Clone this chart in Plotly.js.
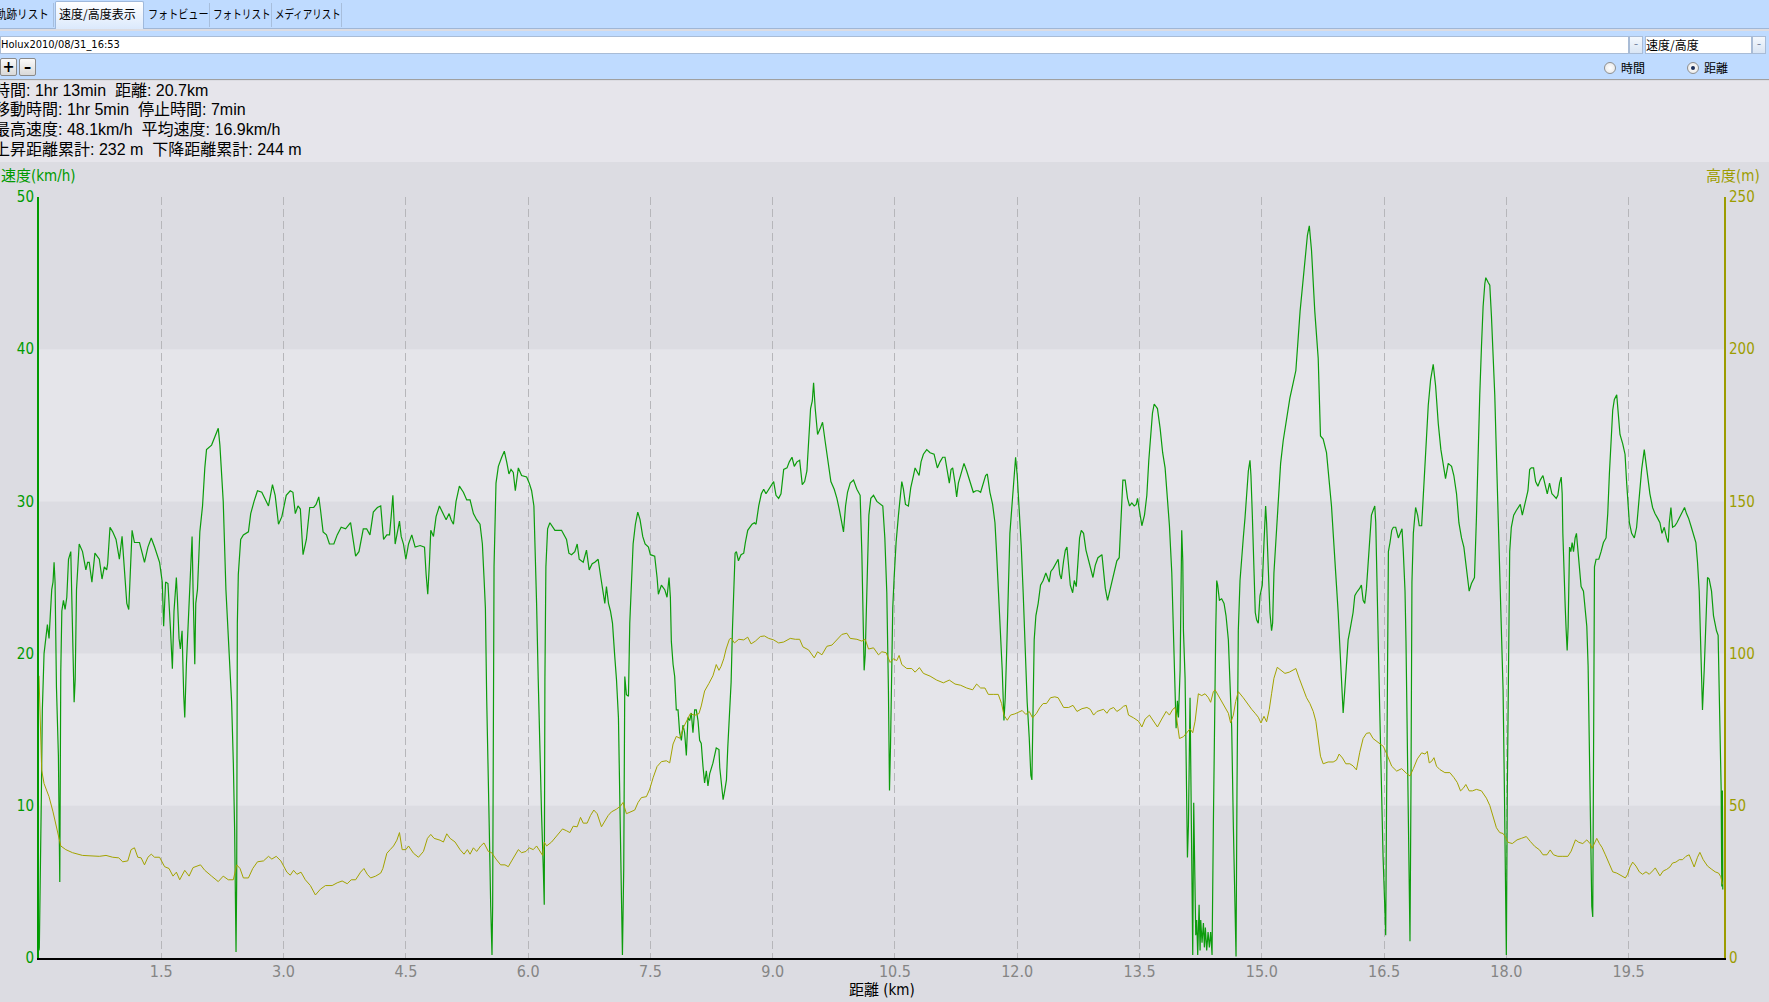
<!DOCTYPE html>
<html><head><meta charset="utf-8">
<script src="https://cdn.plot.ly/plotly-3.0.1.min.js"></script>
<style>
body{margin:0;width:1769px;height:1002px;overflow:hidden;background:#dcdce2;position:relative;font-family:"Liberation Sans Narrow","DejaVu Sans Condensed","Noto Sans CJK JP",sans-serif;}
div{box-sizing:border-box;}
#tabbar{position:absolute;left:0;top:0;width:1769px;height:29px;background:#bfdbff;border-bottom:1px solid #9fb6d6;}
.tab{position:absolute;top:4px;height:20px;font-size:12px;line-height:20px;color:#000;white-space:nowrap;font-family:"Noto Sans CJK JP",sans-serif;transform-origin:0 50%;}
.tabdiv{position:absolute;top:3px;width:1px;height:24px;background:#a7bedc;}
#seltab{position:absolute;left:55px;top:1px;width:89px;height:28px;background:linear-gradient(#ffffff,#dbe9fc);border:1px solid #9fb9dc;border-bottom:none;border-radius:2px 2px 0 0;}
#sep{position:absolute;left:0;top:29px;width:1769px;height:3px;background:#bfdbff;border-top:2px solid #8c8c8c;}
#row2{position:absolute;left:0;top:31px;width:1769px;height:49px;background:#bfdbff;border-bottom:1px solid #a0a0a0;}
.box{position:absolute;background:#fff;border:1px solid #a9bcd6;font-size:11px;line-height:15px;padding-left:0;white-space:nowrap;}
.drop{position:absolute;background:linear-gradient(#f4f8fd,#d9e5f4);border:1px solid #a9bcd6;font-size:9px;line-height:14px;text-align:center;color:#4a5a80;}
.btn{position:absolute;top:27px;width:17px;height:18px;background:linear-gradient(#fafafa,#d9d9d9);border:1px solid #8a8a8a;border-radius:2px;font-size:16px;line-height:15px;text-align:center;font-weight:bold;}
.radio{position:absolute;top:31px;width:12px;height:12px;border-radius:50%;border:1px solid #8e8f8f;background:radial-gradient(#ffffff,#e4e4e4);}
.rlabel{position:absolute;top:29px;font-size:12px;line-height:16px;font-family:"Noto Sans CJK JP",sans-serif;}
#info{position:absolute;left:0;top:81px;width:1769px;height:81px;background:#e6e5eb;}
.line{position:absolute;left:-6px;font-size:16px;line-height:20px;white-space:pre;color:#000;font-family:"Liberation Sans","Noto Sans CJK JP",sans-serif;}
#chart{position:absolute;left:0;top:162px;width:1769px;height:840px;}
</style></head>
<body>
<div id="tabbar">
  <div id="seltab"></div>
  <div class="tab" style="left:-4px;transform:scaleX(0.88)">軌跡リスト</div>
  <div class="tabdiv" style="left:53px"></div>
  <div class="tab" style="left:59px">速度/高度表示</div>
  <div class="tab" style="left:148px;transform:scaleX(0.84)">フォトビュー</div>
  <div class="tabdiv" style="left:209px"></div>
  <div class="tab" style="left:213px;transform:scaleX(0.8)">フォトリスト</div>
  <div class="tabdiv" style="left:271px"></div>
  <div class="tab" style="left:275px;transform:scaleX(0.79)">メディアリスト</div>
  <div class="tabdiv" style="left:341px"></div>
</div>
<div id="row2">
  <div class="box" style="left:0;top:5px;width:1629px;height:18px;">Holux2010/08/31_16:53</div>
  <div class="drop" style="left:1629px;top:5px;width:14px;height:18px;">&#8211;</div>
  <div class="box" style="left:1645px;top:5px;width:107px;height:18px;font-size:12px;font-family:'Noto Sans CJK JP',sans-serif;">速度/高度</div>
  <div class="drop" style="left:1752px;top:5px;width:14px;height:18px;">&#8211;</div>
  <div class="btn" style="left:0px;">+</div>
  <div class="btn" style="left:19px;">&#8211;</div>
  <div class="radio" style="left:1604px;"></div>
  <div class="rlabel" style="left:1621px;">時間</div>
  <div class="radio" style="left:1687px;"><div style="position:absolute;left:3px;top:3px;width:4px;height:4px;border-radius:50%;background:#1b2f5a;"></div></div>
  <div class="rlabel" style="left:1704px;">距離</div>
</div>
<div id="info">
  <div class="line" style="top:0px">時間: 1hr 13min  距離: 20.7km</div>
  <div class="line" style="top:19px">移動時間: 1hr 5min  停止時間: 7min</div>
  <div class="line" style="top:39px">最高速度: 48.1km/h  平均速度: 16.9km/h</div>
  <div class="line" style="top:59px">上昇距離累計: 232 m  下降距離累計: 244 m</div>
</div>
<div id="chart"></div>
<script>
// [distance km, speed km/h]
const speedPoints = [
[0.000,0.5],[0.004,0.7],[0.028,10.3],[0.041,16.3],[0.062,20.0],[0.082,21.0],[0.103,21.9],[0.123,21.0],[0.135,22.3],[0.156,24.2],
[0.172,24.7],[0.185,26.0],[0.197,24.7],[0.214,17.8],[0.238,13.3],[0.255,5.0],[0.267,18.8],[0.280,22.8],[0.300,23.5],[0.320,22.9],
[0.341,23.7],[0.362,26.2],[0.390,26.7],[0.411,21.8],[0.431,16.8],[0.444,18.3],[0.460,24.2],[0.493,27.2],[0.534,26.7],[0.575,25.5],
[0.596,26.0],[0.616,26.0],[0.649,24.7],[0.686,26.6],[0.740,26.2],[0.773,24.9],[0.801,25.7],[0.830,25.5],[0.842,25.9],[0.871,28.3],
[0.904,28.0],[0.945,27.5],[0.986,26.2],[1.019,27.7],[1.048,25.5],[1.077,23.3],[1.101,22.9],[1.142,28.1],[1.171,27.3],[1.233,27.3],
[1.266,26.6],[1.294,26.0],[1.336,27.0],[1.377,27.6],[1.418,27.0],[1.479,26.0],[1.512,24.7],[1.529,21.8],[1.553,24.7],[1.582,24.6],
[1.611,21.8],[1.636,19.0],[1.656,22.8],[1.685,25.0],[1.697,23.7],[1.718,21.0],[1.734,20.3],[1.755,21.5],[1.775,17.3],[1.788,15.8],
[1.808,19.3],[1.841,23.0],[1.862,25.0],[1.878,27.7],[1.890,24.2],[1.911,19.3],[1.923,23.3],[1.944,24.2],[1.973,28.0],[2.006,29.7],
[2.034,32.2],[2.055,33.4],[2.117,33.7],[2.158,34.2],[2.199,34.8],[2.219,33.7],[2.260,30.0],[2.293,24.2],[2.326,20.8],[2.363,16.8],
[2.384,12.8],[2.400,8.4],[2.417,0.4],[2.425,5.1],[2.433,22.0],[2.445,25.2],[2.474,27.5],[2.507,27.8],[2.569,28.0],[2.597,29.2],
[2.638,30.0],[2.680,30.7],[2.733,30.6],[2.774,30.2],[2.815,29.7],[2.864,31.1],[2.897,30.4],[2.938,28.5],[2.979,29.0],[3.033,30.4],
[3.082,30.7],[3.115,30.6],[3.144,29.2],[3.177,29.7],[3.206,29.5],[3.239,26.5],[3.280,27.5],[3.321,29.6],[3.370,29.6],[3.399,29.8],
[3.432,30.3],[3.452,29.5],[3.485,28.0],[3.526,27.8],[3.563,27.2],[3.617,27.2],[3.658,27.8],[3.707,28.3],[3.761,28.2],[3.822,28.6],
[3.851,27.7],[3.884,26.4],[3.925,26.7],[3.978,28.2],[4.019,28.2],[4.060,27.8],[4.101,29.3],[4.151,29.6],[4.192,29.7],
[4.227,27.5],[4.267,27.8],[4.300,27.8],[4.320,29.0],[4.341,30.4],[4.369,27.2],[4.402,28.2],[4.422,28.7],[4.443,27.7],[4.471,27.2],
[4.500,26.2],[4.533,27.2],[4.573,27.8],[4.614,27.0],[4.676,27.1],[4.729,27.0],[4.749,25.2],[4.769,23.9],[4.790,26.0],[4.806,28.1],
[4.839,27.7],[4.871,29.0],[4.912,29.7],[4.953,29.3],[4.994,28.8],[5.031,29.2],[5.055,28.8],[5.084,28.5],[5.116,30.0],[5.157,31.0],
[5.206,30.6],[5.247,30.1],[5.288,30.1],[5.329,29.2],[5.369,28.8],[5.410,28.5],[5.439,27.2],[5.459,25.0],[5.476,23.0],[5.492,17.0],
[5.508,13.3],[5.524,8.4],[5.541,3.4],[5.557,0.2],[5.565,3.4],[5.582,25.7],[5.606,31.2],[5.635,32.3],[5.676,32.9],[5.708,33.3],
[5.737,32.6],[5.765,31.8],[5.790,32.1],[5.818,31.9],[5.843,30.7],[5.880,32.2],[5.920,31.7],[5.982,31.6],[6.014,31.2],[6.043,30.7],
[6.071,29.7],[6.088,27.0],[6.104,23.3],[6.124,18.3],[6.145,13.3],[6.165,9.4],[6.186,5.9],[6.198,3.5],[6.206,18.3],[6.218,25.7],
[6.239,28.2],[6.267,28.6],[6.329,28.1],[6.410,28.1],[6.471,27.5],[6.500,26.6],[6.533,26.5],[6.573,26.7],[6.602,27.2],[6.627,26.2],
[6.676,26.0],[6.716,26.8],[6.749,25.5],[6.786,25.9],[6.818,26.0],[6.859,26.2],[6.892,25.0],[6.920,24.0],[6.941,23.3],[6.961,24.4],
[6.986,23.3],[7.010,22.8],[7.035,22.0],[7.063,19.8],[7.084,18.3],[7.108,15.8],[7.124,10.8],[7.141,4.6],[7.157,0.2],[7.173,5.9],
[7.186,18.5],[7.206,17.3],[7.231,17.2],[7.247,22.0],[7.267,24.7],[7.288,27.2],[7.316,28.5],[7.345,29.3],[7.373,28.8],[7.406,27.7],
[7.435,27.2],[7.476,27.0],[7.500,26.5],[7.553,26.4],[7.582,25.0],[7.598,23.9],[7.635,24.5],[7.676,24.2],[7.704,23.7],[7.729,25.0],
[7.745,23.7],[7.757,20.8],[7.778,19.3],[7.798,18.5],[7.818,16.3],[7.839,16.3],[7.859,14.8],[7.880,14.3],[7.900,15.3],[7.920,14.8],
[7.941,13.3],[7.961,15.8],[7.982,15.6],[8.002,16.1],[8.022,14.8],[8.043,16.3],[8.063,16.3],[8.084,15.6],[8.104,14.3],[8.124,14.1],
[8.145,12.6],[8.165,11.5],[8.186,12.3],[8.206,11.3],[8.227,12.1],[8.267,12.8],[8.308,13.8],[8.341,13.7],
[8.351,12.5],[8.371,11.2],[8.392,10.4],[8.412,11.0],[8.433,11.7],[8.449,13.8],[8.469,16.3],[8.490,18.1],[8.506,21.5],[8.522,24.0],
[8.539,26.6],[8.555,26.7],[8.580,26.1],[8.612,26.5],[8.645,26.6],[8.665,27.3],[8.694,28.1],[8.747,28.5],[8.776,28.6],[8.796,28.5],
[8.829,29.7],[8.861,30.5],[8.890,30.8],[8.918,30.5],[8.963,30.9],[9.012,31.3],[9.041,30.4],[9.073,30.2],[9.102,30.5],[9.135,32.1],
[9.176,32.2],[9.204,32.6],[9.237,32.9],[9.265,32.3],[9.298,32.6],[9.331,32.7],[9.363,31.1],[9.392,31.3],[9.420,32.0],[9.445,34.3],
[9.465,36.1],[9.486,36.6],[9.502,37.8],[9.522,36.1],[9.551,34.4],[9.584,34.8],[9.612,35.2],[9.645,33.9],[9.686,32.5],[9.714,31.3],
[9.755,30.8],[9.788,30.2],[9.820,29.4],[9.849,28.4],[9.869,28.0],[9.894,29.7],[9.918,30.6],[9.951,31.2],[9.992,31.4],[10.033,30.8],
[10.073,30.4],[10.094,26.6],[10.106,24.0],[10.122,18.9],[10.135,19.9],[10.155,24.0],[10.180,29.1],[10.204,30.2],[10.237,30.4],[10.278,30.0],
[10.318,29.8],[10.351,29.7],[10.376,27.6],[10.400,24.0],[10.420,17.6],[10.433,11.0],[10.445,13.8],[10.457,18.9],[10.473,23.0],[10.490,25.0],
[10.514,27.3],[10.543,29.1],[10.563,30.2],[10.584,31.3],[10.604,30.8],[10.629,29.8],[10.665,29.7],[10.694,30.9],[10.727,31.7],[10.747,32.2],
[10.767,32.0],[10.796,31.7],[10.820,32.6],[10.849,33.1],[10.890,33.4],[10.931,33.2],[10.980,33.1],[11.004,32.5],[11.020,32.2],[11.053,32.6],
[11.086,32.9],[11.114,32.9],[11.143,32.1],[11.167,31.2],[11.188,32.1],[11.208,32.2],[11.237,31.2],[11.257,30.3],[11.278,31.2],[11.306,31.8],
[11.347,32.5],[11.380,32.0],[11.420,31.3],[11.461,30.6],[11.494,30.7],[11.522,30.7],[11.551,30.6],[11.584,31.3],[11.612,31.7],[11.633,31.8],
[11.665,30.6],[11.698,29.8],[11.727,28.6],[11.747,26.6],[11.771,24.0],[11.796,21.5],[11.816,18.9],[11.837,15.6],[11.853,17.1],[11.869,19.9],
[11.890,25.0],[11.910,27.9],[11.935,29.7],[11.959,31.7],[11.980,32.9],[12.000,31.7],[12.024,29.7],[12.049,27.1],[12.073,24.0],[12.098,20.2],
[12.122,16.8],[12.147,14.5],[12.167,12.0],[12.180,11.7],[12.196,16.3],[12.208,20.9],[12.229,22.5],[12.257,23.3],[12.286,24.5],[12.318,24.8],
[12.351,25.3],[12.371,25.0],[12.392,24.7],[12.412,25.4],[12.441,25.6],[12.482,26.0],[12.502,26.2],[12.522,25.2],
[12.541,24.9],[12.569,26.1],[12.590,26.8],[12.610,27.0],[12.631,25.6],[12.651,24.5],[12.680,24.0],[12.700,24.8],[12.724,24.4],[12.745,26.3],
[12.765,27.6],[12.786,28.1],[12.814,27.9],[12.843,26.8],[12.876,26.1],[12.904,25.4],[12.929,25.0],[12.957,25.8],[12.990,26.3],[13.039,26.5],
[13.059,25.6],[13.080,24.3],[13.108,23.5],[13.141,24.3],[13.182,25.3],[13.222,26.1],[13.251,26.3],[13.271,28.6],[13.296,31.4],[13.324,31.4],
[13.353,30.2],[13.378,29.7],[13.406,29.9],[13.435,29.7],[13.459,29.8],[13.476,30.2],[13.500,29.3],[13.529,28.4],[13.561,29.1],[13.590,30.4],
[13.614,32.7],[13.639,34.8],[13.659,35.8],[13.680,36.4],[13.720,36.1],[13.753,34.8],[13.784,33.2],[13.814,32.2],[13.843,30.4],[13.867,28.4],
[13.896,25.3],[13.916,21.5],[13.937,16.3],[13.949,15.1],[13.965,16.9],[13.978,15.8],[13.998,18.9],[14.010,24.0],[14.018,28.1],[14.031,26.1],
[14.039,21.5],[14.059,18.4],[14.071,13.8],[14.088,6.6],[14.100,8.7],[14.112,15.1],[14.120,17.1],[14.129,12.5],[14.141,4.8],[14.153,0.2],
[14.165,10.2],[14.178,4.0],[14.190,1.5],[14.202,2.5],[14.214,0.2],[14.231,3.5],[14.243,0.5],[14.251,2.5],[14.267,1.0],[14.284,2.3],
[14.296,0.7],[14.308,2.0],[14.324,0.5],[14.341,1.7],[14.357,0.7],[14.373,1.7],[14.390,0.2],[14.406,8.7],[14.422,18.9],[14.435,21.5],
[14.447,24.8],[14.459,24.5],[14.480,23.5],[14.508,23.6],[14.537,23.3],[14.561,22.5],[14.590,20.9],[14.610,17.6],[14.631,15.1],[14.651,8.7],
[14.671,4.3],[14.684,0.1],[14.696,11.2],[14.712,21.5],[14.733,24.8],[14.753,26.6],[14.773,27.6],[14.794,28.9],[14.814,30.7],[14.835,32.0],
[14.855,32.7],[14.867,31.7],[14.884,29.1],[14.904,25.6],[14.920,22.7],[14.937,22.2],[14.957,22.0],[14.978,23.8],[15.006,24.5],[15.027,27.3],
[15.047,29.7],[15.059,28.6],[15.080,26.1],[15.100,22.7],[15.120,21.5],[15.133,22.0],[15.149,25.3],[15.173,27.3],[15.202,29.7],[15.231,32.5],
[15.263,34.0],[15.304,35.5],[15.345,36.8],[15.386,37.8],[15.418,38.6],[15.470,42.5],[15.520,45.5],[15.560,47.5],[15.583,48.1],[15.610,46.5],
[15.650,42.5],[15.692,39.4],[15.720,34.3],[15.753,34.1],[15.794,33.2],[15.835,30.9],[15.855,29.7],[15.876,27.9],[15.896,25.8],[15.916,24.5],
[15.937,22.7],[15.957,20.2],[15.978,18.4],[15.998,16.1],[16.018,17.6],[16.039,19.7],[16.059,20.9],[16.080,21.5],[16.100,22.0],[16.120,22.7],
[16.141,23.8],[16.161,24.0],[16.202,24.3],[16.222,24.5],[16.243,23.5],[16.263,23.3],[16.284,24.3],[16.304,25.8],[16.324,27.6],[16.345,29.1],
[16.365,29.4],[16.386,29.7],[16.398,28.6],[16.414,25.3],[16.431,20.2],[16.447,16.3],[16.467,11.2],[16.488,6.6],[16.508,3.5],[16.520,1.5],
[16.529,8.7],[16.553,26.7],[16.573,27.3],[16.594,28.1],[16.614,28.3],[16.643,28.3],[16.675,27.6],[16.696,27.9],[16.720,28.2],[16.736,26.7],
[16.757,24.1],[16.769,20.8],[16.785,14.4],[16.802,6.3],[16.818,1.1],[16.830,11.1],[16.842,24.7],[16.859,27.9],[16.887,29.6],[16.912,29.1],
[16.932,28.4],[16.961,28.4],[16.981,30.5],[17.010,33.8],[17.042,36.3],[17.071,38.0],[17.103,39.0],[17.132,37.6],[17.165,35.1],[17.197,33.4],
[17.226,32.5],[17.254,31.5],[17.287,32.5],[17.328,32.3],[17.356,31.7],[17.389,30.5],[17.418,28.6],[17.450,27.6],[17.479,27.0],[17.503,26.0],
[17.523,25.0],[17.544,24.1],[17.572,24.6],[17.609,25.0],[17.633,28.9],[17.654,33.8],[17.674,37.0],[17.695,40.2],[17.715,42.8],[17.736,44.3],
[17.748,44.7],[17.776,44.4],[17.797,44.2],[17.817,42.2],[17.838,39.9],[17.858,37.0],[17.878,33.1],[17.899,29.2],[17.919,25.4],[17.940,22.1],
[17.960,17.6],[17.976,11.1],[17.988,3.1],[18.000,0.2],[18.012,11.1],[18.029,24.1],[18.041,26.7],[18.061,28.3],[18.090,29.1],[18.122,29.4],
[18.147,29.6],[18.171,29.8],[18.196,29.1],[18.220,29.6],[18.245,30.2],[18.265,30.7],[18.286,32.1],[18.306,32.2],[18.334,32.2],[18.359,31.3],
[18.387,31.0],[18.416,31.4],[18.449,31.7],[18.477,31.0],[18.502,30.5],[18.530,31.2],[18.559,30.5],[18.579,30.4],[18.612,30.2],[18.632,30.4],
[18.653,31.2],[18.673,31.6],[18.685,30.5],[18.693,27.9],[18.706,25.0],[18.722,23.1],[18.734,21.5],[18.746,20.2],[18.758,21.8],[18.775,27.0],
[18.791,26.7],[18.807,27.3],[18.824,26.7],[18.844,27.6],[18.860,27.9],[18.877,26.7],[18.897,25.7],[18.917,24.4],[18.946,24.1],[18.966,23.1],
[18.987,21.8],[19.003,19.2],[19.019,14.4],[19.036,7.9],[19.048,3.4],[19.060,2.7],[19.068,17.6],[19.081,25.7],[19.101,26.2],[19.134,26.2],
[19.162,26.7],[19.191,27.3],[19.223,27.6],[19.244,29.2],[19.264,31.8],[19.284,34.4],[19.305,36.0],[19.325,36.7],[19.354,37.0],[19.374,35.7],
[19.394,34.4],[19.427,33.8],[19.456,33.1],[19.476,31.2],[19.492,29.6],[19.509,28.6],[19.537,27.9],[19.570,27.6],[19.598,28.3],[19.631,30.5],
[19.660,32.1],[19.692,33.4],[19.713,32.5],[19.733,31.5],[19.761,30.5],[19.794,29.6],[19.823,29.2],[19.855,28.9],[19.884,28.6],[19.909,27.9],
[19.937,28.3],[19.966,27.6],[19.986,27.3],[19.999,28.6],[20.019,29.6],[20.039,28.3],[20.068,28.4],[20.092,28.6],[20.121,28.9],[20.154,29.2],
[20.186,29.6],[20.210,29.2],[20.235,28.9],[20.264,28.4],[20.292,27.9],[20.325,27.3],[20.345,26.0],[20.366,24.1],[20.386,20.2],[20.406,16.3],
[20.427,18.9],[20.447,21.5],[20.468,25.0],[20.488,24.9],[20.517,24.1],[20.541,22.5],[20.562,21.8],[20.578,21.5],[20.598,21.2],[20.619,16.3],
[20.635,11.1],[20.643,4.7],[20.650,11.0],[20.655,4.5]
];
// [distance km, altitude m]
const altitudePoints = [
[0.000,92.7],[0.015,78.0],[0.033,61.7],[0.062,57.3],[0.123,53.0],[0.172,48.0],[0.226,41.8],[0.267,36.8],[0.329,35.6],[0.411,34.6],
[0.534,33.7],[0.658,33.4],[0.740,33.4],[0.822,33.7],[0.904,33.1],[0.978,32.9],[1.027,31.6],[1.089,31.9],[1.130,35.6],[1.171,36.2],
[1.212,33.1],[1.253,32.9],[1.294,30.6],[1.336,33.1],[1.377,34.1],[1.418,33.1],[1.479,33.1],[1.541,30.0],[1.595,29.4],[1.644,26.9],
[1.685,28.2],[1.726,25.7],[1.788,28.8],[1.841,26.9],[1.890,29.7],[1.981,30.6],[2.034,28.8],[2.117,26.9],[2.199,25.1],[2.260,26.9],
[2.322,25.7],[2.384,25.7],[2.425,30.6],[2.466,29.4],[2.507,26.3],[2.569,26.3],[2.622,29.4],[2.680,31.6],[2.754,31.9],[2.815,33.4],
[2.856,32.5],[2.910,33.4],[2.967,31.9],[3.041,28.2],[3.082,27.2],[3.123,28.8],[3.164,27.5],[3.214,28.2],[3.267,25.7],[3.329,23.8],
[3.391,20.7],[3.452,22.6],[3.514,23.8],[3.596,23.8],[3.658,24.7],[3.719,25.3],[3.781,24.4],[3.830,25.7],[3.884,25.7],[3.945,28.2],
[3.986,29.4],[4.027,27.5],[4.068,26.3],[4.130,26.9],[4.192,27.9],
[4.218,29.4],[4.267,34.4],[4.308,35.6],[4.349,36.8],[4.390,38.7],[4.422,41.2],[4.455,35.6],[4.500,35.6],[4.533,36.8],[4.594,34.4],
[4.655,33.1],[4.716,35.0],[4.765,39.3],[4.806,40.6],[4.847,39.3],[4.920,38.7],[4.961,38.1],[5.002,40.8],[5.043,39.3],[5.104,38.1],
[5.165,35.6],[5.214,34.1],[5.255,35.6],[5.288,34.1],[5.329,36.2],[5.369,35.0],[5.418,36.8],[5.459,37.8],[5.512,35.0],[5.553,34.6],
[5.606,32.5],[5.663,30.6],[5.716,30.6],[5.757,30.0],[5.798,31.9],[5.839,33.7],[5.880,35.6],[5.920,34.6],[5.973,35.0],[6.014,36.2],
[6.063,35.6],[6.104,36.8],[6.145,35.0],[6.178,33.7],[6.198,38.1],[6.227,36.8],[6.288,38.1],[6.349,40.0],[6.422,42.4],[6.471,41.8],
[6.512,41.2],[6.553,43.3],[6.602,43.1],[6.643,46.2],[6.676,44.3],[6.724,44.3],[6.765,46.8],[6.806,48.6],[6.847,47.4],[6.900,43.1],
[6.941,44.9],[6.982,46.8],[7.022,48.0],[7.084,48.9],[7.133,49.9],[7.165,51.1],[7.206,47.4],[7.255,48.0],[7.308,48.6],[7.349,51.1],
[7.390,52.7],[7.451,53.0],[7.492,55.5],[7.533,59.2],[7.582,62.9],[7.635,64.5],[7.696,64.8],[7.737,64.1],[7.778,70.3],[7.818,72.8],
[7.859,72.2],[7.908,75.9],[7.949,78.4],[7.990,80.3],[8.043,79.7],[8.096,80.3],[8.124,82.8],[8.165,87.7],[8.218,90.2],[8.267,92.7],
[8.308,96.4],[8.341,94.5],
[8.367,95.8],[8.400,98.3],[8.429,101.5],[8.449,102.8],[8.469,104.7],[8.490,105.1],[8.531,103.5],[8.584,104.7],[8.645,104.5],[8.694,105.4],
[8.735,103.2],[8.788,104.1],[8.849,105.6],[8.898,105.8],[8.951,105.0],[9.012,104.5],[9.073,103.5],[9.135,103.8],[9.216,105.0],[9.278,104.7],
[9.331,104.7],[9.371,102.2],[9.441,101.2],[9.510,98.6],[9.551,100.6],[9.604,99.6],[9.665,102.4],[9.727,102.8],[9.788,104.5],[9.849,106.3],
[9.910,106.7],[9.951,105.0],[10.033,104.7],[10.094,104.1],[10.135,104.7],[10.176,101.5],[10.237,101.9],[10.298,99.6],[10.339,100.6],[10.392,100.3],
[10.441,97.1],[10.482,98.3],[10.522,97.7],[10.551,99.4],[10.584,96.4],[10.645,95.1],[10.706,95.1],[10.747,93.9],[10.800,95.4],[10.849,93.5],
[10.931,92.6],[11.012,91.3],[11.094,90.4],[11.167,91.3],[11.237,90.0],[11.306,89.6],[11.380,88.7],[11.453,88.1],[11.502,90.0],[11.551,88.7],
[11.604,88.7],[11.645,86.6],[11.706,86.6],[11.767,86.6],[11.808,83.6],[11.837,79.8],[11.878,78.1],[11.918,79.8],[11.971,80.2],[12.012,80.7],
[12.061,81.3],[12.106,80.0],[12.147,81.0],[12.188,78.9],[12.237,80.4],[12.278,82.3],[12.318,83.6],[12.359,83.6],[12.408,85.5],[12.461,85.8],
[12.502,85.5],
[12.569,82.3],[12.631,82.3],[12.684,83.0],[12.733,81.0],[12.794,81.9],[12.855,82.3],[12.896,81.7],[12.937,79.8],[12.978,81.0],[13.018,81.4],
[13.059,81.7],[13.100,80.4],[13.133,81.7],[13.182,82.3],[13.222,81.0],[13.263,81.7],[13.304,82.7],[13.337,83.0],[13.365,79.8],[13.427,78.9],
[13.488,77.8],[13.529,75.9],[13.569,78.5],[13.622,79.8],[13.671,77.8],[13.720,75.9],[13.773,78.5],[13.827,81.0],[13.867,79.8],[13.908,81.7],
[13.937,82.3],[13.965,77.2],[13.990,72.1],[14.039,72.7],[14.080,74.0],[14.120,75.3],[14.153,74.0],[14.182,77.8],[14.222,86.8],[14.263,86.2],
[14.304,86.8],[14.345,85.5],[14.373,84.0],[14.406,87.5],[14.427,88.1],[14.467,86.2],[14.508,84.3],[14.549,82.3],[14.590,80.4],[14.618,77.2],
[14.651,79.8],[14.680,84.3],[14.712,87.5],[14.773,85.5],[14.835,83.0],[14.876,81.7],[14.918,80.4],[14.957,79.1],[14.990,77.2],[15.027,79.4],
[15.059,77.6],[15.092,81.7],[15.120,86.8],[15.149,91.9],[15.190,95.5],[15.231,94.5],[15.284,93.5],[15.337,93.9],[15.386,94.8],[15.418,95.1],
[15.459,91.9],[15.508,88.7],[15.549,85.5],[15.590,83.6],[15.631,81.0],[15.663,77.8],[15.692,71.4],[15.720,66.3],[15.753,63.8],[15.814,64.4],
[15.876,64.4],[15.916,65.0],[15.949,67.0],[15.990,65.7],[16.031,63.8],[16.080,63.8],[16.120,63.1],[16.161,61.8],[16.202,67.6],[16.243,72.1],
[16.284,73.8],[16.324,74.0],[16.365,72.1],[16.427,70.8],
[16.492,69.5],[16.533,67.0],[16.594,63.0],[16.655,61.4],[16.716,62.2],[16.777,60.6],[16.818,59.8],[16.859,62.2],[16.908,65.4],[16.961,67.4],
[17.002,67.0],[17.030,67.9],[17.054,64.1],[17.083,64.6],[17.112,65.8],[17.144,63.0],[17.185,61.9],[17.246,60.9],[17.307,60.9],[17.356,59.3],
[17.397,57.7],[17.438,54.9],[17.470,55.7],[17.503,57.0],[17.544,54.9],[17.584,54.9],[17.633,55.4],[17.695,54.9],[17.756,52.5],[17.797,50.1],
[17.838,46.0],[17.878,42.8],[17.919,41.2],[17.960,40.9],[17.992,39.6],[18.021,38.0],[18.073,37.6],[18.131,38.8],[18.184,39.3],[18.245,39.9],
[18.294,38.3],[18.347,36.7],[18.408,35.5],[18.449,33.9],[18.498,33.9],[18.538,35.5],[18.579,33.9],[18.632,33.4],[18.693,33.4],[18.755,33.4],
[18.795,35.1],[18.824,37.2],[18.848,38.8],[18.889,38.0],[18.938,37.6],[18.987,38.8],[19.027,37.6],[19.052,36.0],[19.081,38.0],[19.109,39.3],
[19.142,37.6],[19.174,36.3],[19.215,33.9],[19.256,31.2],[19.305,28.3],[19.354,27.9],[19.407,27.0],[19.460,26.3],[19.488,27.5],[19.517,29.9],
[19.550,31.5],[19.590,30.2],[19.631,28.3],[19.672,27.5],[19.713,28.3],[19.753,27.5],[19.794,28.6],[19.827,29.6],[19.855,28.3],[19.884,27.0],
[19.925,28.6],[19.966,29.1],[20.007,29.9],[20.039,31.2],[20.080,31.5],[20.121,32.3],[20.162,32.3],[20.203,33.4],[20.243,33.9],[20.276,31.5],
[20.304,29.9],[20.345,33.1],[20.374,34.7],[20.415,32.3],[20.468,30.2],[20.521,29.1],[20.562,28.3],[20.603,27.9],[20.631,26.7],[20.651,24.2]
];
const distanceTicks = [1.5,3.0,4.5,6.0,7.5,9.0,10.5,12.0,13.5,15.0,16.5,18.0,19.5];
const distanceTickLabels = ['1.5','3.0','4.5','6.0','7.5','9.0','10.5','12.0','13.5','15.0','16.5','18.0','19.5'];
const speedTicks = [0,10,20,30,40,50];
const altitudeTicks = [0,50,100,150,200,250];
const lightBands = [[10,20],[30,40]];

const FONT = '"Liberation Sans Narrow","DejaVu Sans Condensed","Noto Sans CJK JP",sans-serif';
const GREEN = '#009a00', OLIVE = '#9c9c00';

const traces = [
  {x: altitudePoints.map(p=>p[0]), y: altitudePoints.map(p=>p[1]), yaxis:'y2', type:'scatter', mode:'lines',
   line:{color:'#a3a300', width:1}, hoverinfo:'skip'},
  {x: speedPoints.map(p=>p[0]), y: speedPoints.map(p=>p[1]), type:'scatter', mode:'lines',
   line:{color:'#0c9c0c', width:1.2}, hoverinfo:'skip'}
];
const shapes = lightBands.map(b=>({type:'rect', xref:'paper', yref:'y', x0:0, x1:1, y0:b[0], y1:b[1],
  fillcolor:'#e5e5ea', line:{width:0}, layer:'below'}));
const layout = {
  width:1769, height:840, margin:{l:39,r:45,t:35,b:44,pad:0},
  paper_bgcolor:'#dcdce2', plot_bgcolor:'#dcdce2', showlegend:false,
  font:{family:FONT},
  xaxis:{range:[0,20.67], tickmode:'array', tickvals:distanceTicks, ticktext:distanceTickLabels,
    showgrid:true, gridcolor:'#b6b6ba', gridwidth:1, griddash:'8px,4px', zeroline:false,
    showline:true, linecolor:'#000', linewidth:2, ticks:'', ticklabelstandoff:-2,
    tickfont:{family:FONT,size:16,color:'#858585'}, fixedrange:true},
  yaxis:{range:[0,50], tickmode:'array', tickvals:speedTicks, showgrid:false, zeroline:false,
    showline:true, linecolor:GREEN, linewidth:2, ticks:'', tickfont:{family:FONT,size:15,color:GREEN}, fixedrange:true},
  yaxis2:{range:[0,250], overlaying:'y', side:'right', tickmode:'array', tickvals:altitudeTicks, showgrid:false, zeroline:false,
    showline:true, linecolor:OLIVE, linewidth:2, ticks:'', tickfont:{family:FONT,size:15,color:OLIVE}, fixedrange:true},
  shapes: shapes,
  annotations:[
    {text:'速度(km/h)', xref:'paper', yref:'paper', x:0, y:1, xanchor:'left', yanchor:'middle', xshift:-40, yshift:21,
     showarrow:false, font:{family:FONT, size:15, color:GREEN}},
    {text:'高度(m)', xref:'paper', yref:'paper', x:1, y:1, xanchor:'right', yanchor:'middle', xshift:38, yshift:21,
     showarrow:false, font:{family:FONT, size:15, color:OLIVE}},
    {text:'距離 (km)', xref:'paper', yref:'paper', x:0.5, y:0, xanchor:'center', yanchor:'middle', yshift:-32,
     showarrow:false, font:{family:FONT, size:15, color:'#000'}}
  ]
};
Plotly.newPlot('chart', traces, layout, {displayModeBar:false, staticPlot:true});
</script>
</body></html>
